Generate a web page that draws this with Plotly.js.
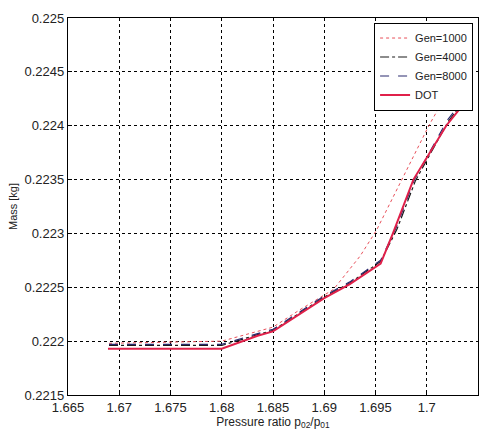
<!DOCTYPE html>
<html>
<head>
<meta charset="utf-8">
<script src="https://cdn.plot.ly/plotly-3.0.1.min.js"></script>
<style>html,body{margin:0;padding:0;background:#fff;}#chart{width:494px;height:431px;}</style>
</head>
<body>
<div id="chart"></div>
<script>
// Pressure ratio (x) and mass (y) values
const gen1000X = [1.6690, 1.6800, 1.6850, 1.6876, 1.6909, 1.6935, 1.6951, 1.7002, 1.7018, 1.7042];
const gen1000Y = [0.22198, 0.22200, 0.22213, 0.22229, 0.22248, 0.22279, 0.22303, 0.22400, 0.22427, 0.22468];

const gen4000X = [1.6690, 1.6800, 1.6835, 1.6850, 1.6900, 1.6925, 1.6955, 1.6971, 1.6989, 1.7021, 1.7042];
const gen4000Y = [0.22196, 0.22196, 0.22206, 0.22210, 0.22241, 0.22254, 0.22274, 0.22304, 0.22349, 0.22404, 0.22430];

const gen8000X = [1.6690, 1.6800, 1.6835, 1.6850, 1.6900, 1.6925, 1.6955, 1.6970, 1.6988, 1.7020, 1.7042];
const gen8000Y = [0.22197, 0.22197, 0.22207, 0.22211, 0.22242, 0.22255, 0.22275, 0.22305, 0.22350, 0.22405, 0.22432];

const dotX = [1.6689, 1.6800, 1.6835, 1.6850, 1.6900, 1.6925, 1.6955, 1.6967, 1.6987, 1.7019, 1.7040];
const dotY = [0.22193, 0.22193, 0.22205, 0.22209, 0.22240, 0.22253, 0.22272, 0.22300, 0.22350, 0.22400, 0.22425];

const xTicks = [1.665, 1.67, 1.675, 1.68, 1.685, 1.69, 1.695, 1.7, 1.705];
const xTickText = ['1.665', '1.67', '1.675', '1.68', '1.685', '1.69', '1.695', '1.7', '1.705'];
const yTicks = [0.2215, 0.222, 0.2225, 0.223, 0.2235, 0.224, 0.2245, 0.225];
const yTickText = ['0.2215', '0.222', '0.2225', '0.223', '0.2235', '0.224', '0.2245', '0.225'];

const traces = [
  {x: gen1000X, y: gen1000Y, name: 'Gen=1000', mode: 'lines',
   line: {color: '#e8505a', width: 1, dash: 'dot'}},
  {x: gen4000X, y: gen4000Y, name: 'Gen=4000', mode: 'lines',
   line: {color: '#1a1a1a', width: 1.2, dash: 'dashdot'}},
  {x: gen8000X, y: gen8000Y, name: 'Gen=8000', mode: 'lines',
   line: {color: '#2a2a6e', width: 1.2, dash: 'dash'}},
  {x: dotX, y: dotY, name: 'DOT', mode: 'lines',
   line: {color: '#e0204a', width: 2}}
];

const axisCommon = {
  showline: true, linecolor: '#000', linewidth: 1.2, mirror: true,
  showgrid: true, gridcolor: '#000', gridwidth: 1, griddash: 'dot',
  ticks: 'inside', ticklen: 4, tickcolor: '#000',
  zeroline: false,
  tickfont: {family: 'Liberation Sans, Arial, sans-serif', size: 13, color: '#222'}
};

const layout = {
  width: 494, height: 431,
  margin: {l: 68, r: 16, t: 18, b: 36},
  paper_bgcolor: '#fff', plot_bgcolor: '#fff',
  showlegend: true,
  legend: {
    x: 0.988, y: 0.988, xanchor: 'right', yanchor: 'top',
    bgcolor: '#fff', bordercolor: '#000', borderwidth: 1,
    font: {family: 'Liberation Sans, Arial, sans-serif', size: 11, color: '#222'},
    itemwidth: 30, tracegroupgap: 0
  },
  xaxis: Object.assign({}, axisCommon, {
    range: [1.665, 1.705], tickvals: xTicks, ticktext: xTickText,
    title: {text: 'Pressure ratio p<sub>02</sub>/p<sub>01</sub>', standoff: 0,
            font: {family: 'Liberation Sans, Arial, sans-serif', size: 12, color: '#222'}}
  }),
  yaxis: Object.assign({}, axisCommon, {
    range: [0.2215, 0.225], tickvals: yTicks, ticktext: yTickText,
    title: {text: 'Mass [kg]', standoff: 4,
            font: {family: 'Liberation Sans, Arial, sans-serif', size: 11, color: '#222'}}
  })
};

Plotly.newPlot('chart', traces, layout, {displayModeBar: false, staticPlot: true});
</script>
</body>
</html>
